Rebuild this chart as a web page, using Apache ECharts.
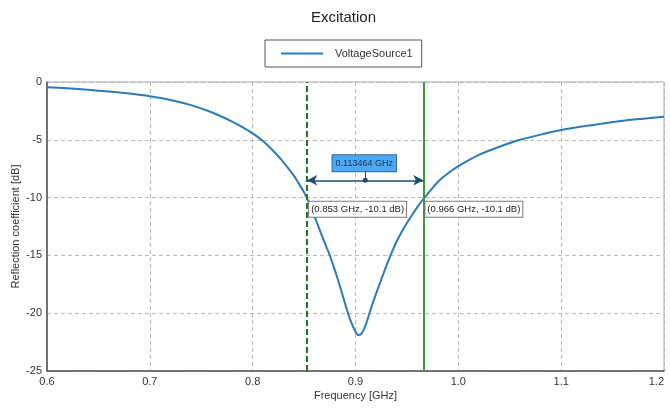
<!DOCTYPE html>
<html>
<head>
<meta charset="utf-8">
<script src="https://cdn.jsdelivr.net/npm/echarts@6/dist/echarts.min.js"></script>
<style>html,body{margin:0;padding:0;background:#fff}#c{width:670px;height:411px}</style>
</head>
<body>
<div id="c"></div>
<script>
// Curve samples (frequency in GHz, reflection coefficient in dB)
var freqs = [0.60, 0.62, 0.64, 0.66, 0.68, 0.70, 0.72, 0.74, 0.76, 0.78, 0.79, 0.80, 0.81, 0.82, 0.83, 0.84, 0.845, 0.85, 0.855, 0.86, 0.865, 0.87, 0.875, 0.88, 0.885, 0.89, 0.895, 0.90, 0.903, 0.906, 0.91, 0.915, 0.92, 0.925, 0.93, 0.935, 0.94, 0.945, 0.95, 0.955, 0.96, 0.966, 0.97, 0.98, 0.99, 1.00, 1.02, 1.04, 1.06, 1.08, 1.10, 1.12, 1.14, 1.16, 1.18, 1.20];
var dbValues = [-0.45, -0.55, -0.68, -0.82, -1.0, -1.23, -1.55, -2.0, -2.62, -3.42, -3.9, -4.45, -5.1, -5.95, -6.95, -8.1, -8.8, -9.55, -10.5, -11.6, -12.75, -13.9, -15.0, -16.3, -17.7, -19.2, -20.6, -21.6, -21.9, -21.75, -21.0, -19.6, -18.3, -17.1, -15.9, -14.8, -13.8, -12.95, -12.2, -11.5, -10.85, -10.1, -9.7, -8.65, -7.9, -7.28, -6.3, -5.6, -5.0, -4.55, -4.15, -3.85, -3.6, -3.35, -3.17, -3.0];
var seriesName = 'VoltageSource1';
// Markers
var markerFreqs = [0.853, 0.966];
var markerDb = [-10.1, -10.1];
var bandwidthLevel = -8.5;
var bandwidthText = '0.113464 GHz';
var xTicks = ['0.6', '0.7', '0.8', '0.9', '1.0', '1.1', '1.2'];

var data = freqs.map(function (f, i) { return [f, dbValues[i]]; });
var midF = (markerFreqs[0] + markerFreqs[1]) / 2;
var font = 'Liberation Sans, Arial, sans-serif';

var chart = echarts.init(document.getElementById('c'));
chart.setOption({
  animation: false,
  backgroundColor: '#fff',
  title: {
    text: 'Excitation', left: 311, top: 10, padding: 0,
    textStyle: { fontFamily: font, fontSize: 15, fontWeight: 'normal', color: '#222' }
  },
  legend: {
    left: 265, top: 40,
    padding: [8, 9, 8, 16],
    borderColor: '#555', borderWidth: 1,
    itemWidth: 42, itemHeight: 14,
    textStyle: { fontFamily: font, fontSize: 11, color: '#333', padding: [0, 0, 0, 7] },
    data: [{ name: seriesName, icon: 'path://M0,6 L42,6 L42,8 L0,8 Z' }]
  },
  grid: { left: 47, right: 6, top: 82, height: 289, show: true, borderColor: '#aaa', borderWidth: 1, containLabel: false, outerBoundsMode: 'none' },
  xAxis: {
    type: 'value', min: 0.6, max: 1.2, interval: 0.1,
    name: 'Frequency [GHz]', nameLocation: 'middle', nameGap: 15, nameMoveOverlap: false,
    nameTextStyle: { fontFamily: font, fontSize: 11, color: '#333', padding: [4, 0, 0, 0] },
    axisLine: { onZero: false, lineStyle: { color: '#555', width: 1.5 } },
    axisTick: { show: false },
    axisLabel: {
      fontFamily: font, fontSize: 11, color: '#333', margin: 5, alignMaxLabel: 'right',
      formatter: function (v) { var i = Math.round((v - 0.6) / 0.1); return xTicks[i] !== undefined ? xTicks[i] : ''; }
    },
    splitLine: { lineStyle: { color: '#bbb', type: [4, 3] } }
  },
  yAxis: {
    type: 'value', min: -25, max: 0, interval: 5,
    name: 'Reflection coefficient [dB]', nameLocation: 'middle', nameGap: 26, nameRotate: 90, nameMoveOverlap: false,
    nameTextStyle: { fontFamily: font, fontSize: 11, color: '#333' },
    axisLine: { show: true, onZero: false, lineStyle: { color: '#555', width: 1.5 } },
    axisTick: { show: false },
    axisLabel: { fontFamily: font, fontSize: 11, color: '#333', margin: 5 },
    splitLine: { lineStyle: { color: '#bbb', type: [4, 3] } }
  },
  series: [
    {
      name: seriesName, type: 'line', data: data, smooth: 0.25,
      symbol: 'none', showSymbol: false,
      lineStyle: { color: '#2b7bb9', width: 2 }, itemStyle: { color: '#2b7bb9' },
      z: 3,
      markLine: {
        silent: true, animation: false,
        label: { show: false },
        data: [
          [{ coord: [markerFreqs[0], -25], symbol: 'none', lineStyle: { color: '#1e7a1e', width: 2, type: [6, 3] } },
           { coord: [markerFreqs[0], 0], symbol: 'none' }],
          [{ coord: [markerFreqs[1], -25], symbol: 'none', lineStyle: { color: '#3a9a3a', width: 2, type: 'solid' } },
           { coord: [markerFreqs[1], 0], symbol: 'none' }],
          [{ coord: [markerFreqs[0], bandwidthLevel], symbol: 'arrow', symbolSize: [8, 10], lineStyle: { color: '#1f4e6e', width: 1.5, type: 'solid' } },
           { coord: [markerFreqs[1], bandwidthLevel], symbol: 'arrow', symbolSize: [8, 10] }],
          [{ coord: [midF, bandwidthLevel], symbol: 'none', lineStyle: { color: '#1f4e6e', width: 1, type: 'solid' } },
           { coord: [midF, bandwidthLevel + 0.8], symbol: 'none' }]
        ]
      },
      markPoint: {
        silent: true, animation: false,
        data: [
          { coord: [midF, bandwidthLevel], symbol: 'circle', symbolSize: 5, itemStyle: { color: '#1f4e6e' }, label: { show: false } },
          { coord: [markerFreqs[0], markerDb[0]], symbol: 'circle', symbolSize: 0,
            label: { show: true, position: 'inside', align: 'left', verticalAlign: 'top', offset: [2, 3],
              formatter: '(' + markerFreqs[0].toFixed(3) + ' GHz, ' + markerDb[0].toFixed(1) + ' dB)',
              fontFamily: font, fontSize: 9.5, color: '#222', backgroundColor: '#fff', borderColor: '#777', borderWidth: 1, padding: [3, 2, 2, 2] } },
          { coord: [markerFreqs[1], markerDb[1]], symbol: 'circle', symbolSize: 0,
            label: { show: true, position: 'inside', align: 'left', verticalAlign: 'top', offset: [2, 3],
              formatter: '(' + markerFreqs[1].toFixed(3) + ' GHz, ' + markerDb[1].toFixed(1) + ' dB)',
              fontFamily: font, fontSize: 9.5, color: '#222', backgroundColor: '#fff', borderColor: '#777', borderWidth: 1, padding: [3, 2, 2, 2] } },
          { coord: [midF, bandwidthLevel], symbol: 'circle', symbolSize: 0,
            label: { show: true, position: 'inside', align: 'center', verticalAlign: 'bottom', offset: [-1, -9],
              formatter: bandwidthText,
              fontFamily: font, fontSize: 9, color: '#1a3550', backgroundColor: '#4da8f5', borderColor: '#2a6a9a', borderWidth: 1, padding: [4, 3, 3, 3] } }
        ]
      }
    }
  ]
});
</script>
</body>
</html>
